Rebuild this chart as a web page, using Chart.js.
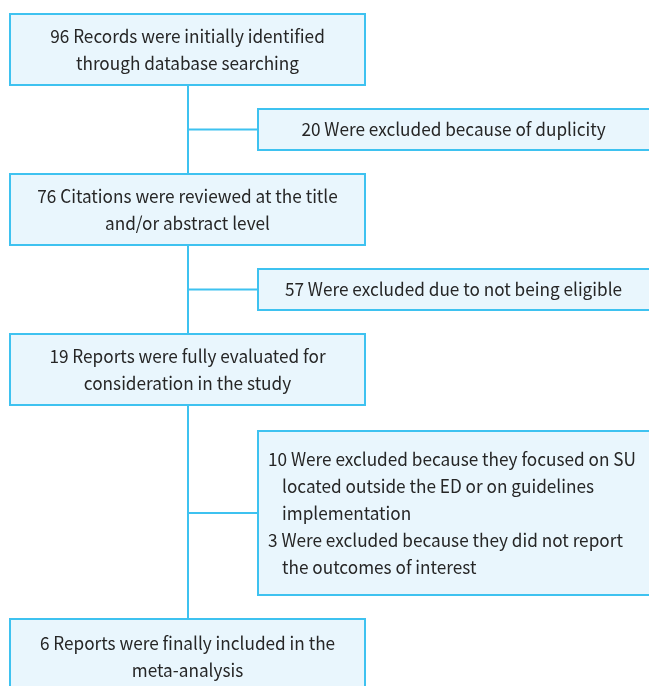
<!DOCTYPE html>
<html>
<head>
<meta charset="utf-8">
<script src="https://cdn.jsdelivr.net/npm/chart.js@4/dist/chart.umd.min.js"></script>
<style>
  html, body { margin: 0; padding: 0; background: #ffffff; }
  #wrap { width: 649px; height: 686px; }
</style>
</head>
<body>
<div id="wrap"><canvas id="c" width="649" height="686"></canvas></div>
<script>
// ---- content (data) ----
const mainSteps = [
  ["96 Records were initially identified", "through database searching"],
  ["76 Citations were reviewed at the title", "and/or abstract level"],
  ["19 Reports were fully evaluated for", "consideration in the study"],
  ["6 Reports were finally included in the", "meta-analysis"]
];
const exclusionSteps = [
  [["20 Were excluded because of duplicity"]],
  [["57 Were excluded due to not being eligible"]],
  [
    ["10 Were excluded because they focused on SU", "located outside the ED or on guidelines", "implementation"],
    ["3 Were excluded because they did not report", "the outcomes of interest"]
  ]
];

// ---- layout (positions / sizes, in chart units = px) ----
const MAIN_X0 = 10, MAIN_X1 = 365;
const mainTops = [14, 174, 334, 619];
const mainBottoms = [85, 245, 405, 700];
const EXC_X0 = 258, EXC_X1 = 652;
const excTops = [109, 269, 431];
const excBottoms = [150, 310, 595];
const SPINE_X = 188;
const LINE_H = 27;

// ---- styles ----
const BORDER = '#3ec2f0';
const FILL = '#e9f6fd';
const TEXT = '#262626';
const FONT = '18px "Noto Sans CJK KR", "Noto Sans", sans-serif';
const SQUEEZE = 0.955;

// connectors as line datasets
const branchYs = excTops.map((t, i) => (t + excBottoms[i]) / 2);
const datasets = [
  { data: [{x: SPINE_X, y: mainBottoms[0]}, {x: SPINE_X, y: mainTops[3]}] }
].concat(branchYs.map(y => ({ data: [{x: SPINE_X, y: y}, {x: EXC_X0, y: y}] })));
datasets.forEach(d => {
  d.showLine = true; d.borderColor = BORDER; d.borderWidth = 2;
  d.pointRadius = 0; d.fill = false;
});

function drawText(ctx, str, x, y, align) {
  ctx.save();
  ctx.translate(x, y);
  ctx.scale(SQUEEZE, 1);
  ctx.textAlign = align;
  ctx.fillText(str, 0, 0);
  ctx.restore();
}

const boxPlugin = {
  id: 'boxes',
  afterDatasetsDraw(chart) {
    const ctx = chart.ctx;
    const xs = chart.scales.x, ys = chart.scales.y;
    const px = v => xs.getPixelForValue(v), py = v => ys.getPixelForValue(v);
    function box(x0, y0, x1, y1) {
      const a = px(x0), b = py(y0), c = px(x1), d = py(y1);
      ctx.fillStyle = FILL;
      ctx.fillRect(a, b, c - a, d - b);
      ctx.strokeStyle = BORDER;
      ctx.lineWidth = 2;
      ctx.strokeRect(a, b, c - a, d - b);
    }
    ctx.save();
    ctx.font = FONT;
    ctx.textBaseline = 'middle';
    // main boxes
    mainSteps.forEach((lines, i) => {
      box(MAIN_X0, mainTops[i], MAIN_X1, mainBottoms[i]);
      ctx.fillStyle = TEXT;
      const top = mainTops[i];
      const cy = i === 3 ? top + 37.5 : top + (mainBottoms[i] - top) / 2;
      lines.forEach((ln, k) => {
        const y = cy + (k - (lines.length - 1) / 2) * LINE_H;
        drawText(ctx, ln, px((MAIN_X0 + MAIN_X1) / 2), py(y), 'center');
      });
    });
    // exclusion boxes
    exclusionSteps.forEach((items, i) => {
      box(EXC_X0, excTops[i], EXC_X1, excBottoms[i]);
      ctx.fillStyle = TEXT;
      const all = [];
      items.forEach(it => it.forEach((ln, k) => all.push({ ln, indent: k > 0 })));
      const cy = (excTops[i] + excBottoms[i]) / 2;
      if (all.length === 1) {
        drawText(ctx, all[0].ln, px((EXC_X0 + 649) / 2), py(cy), 'center');
      } else {
        all.forEach((o, k) => {
          const y = cy + (k - (all.length - 1) / 2) * LINE_H;
          drawText(ctx, o.ln, px(EXC_X0 + (o.indent ? 24 : 10)), py(y), 'left');
        });
      }
    });
    ctx.restore();
  }
};

new Chart(document.getElementById('c'), {
  type: 'scatter',
  data: { datasets },
  options: {
    responsive: false,
    animation: false,
    events: [],
    layout: { padding: 0 },
    plugins: { legend: { display: false }, tooltip: { enabled: false } },
    scales: {
      x: { type: 'linear', min: 0, max: 649, display: false },
      y: { type: 'linear', min: 0, max: 686, reverse: true, display: false }
    }
  },
  plugins: [boxPlugin]
});
</script>
</body>
</html>
